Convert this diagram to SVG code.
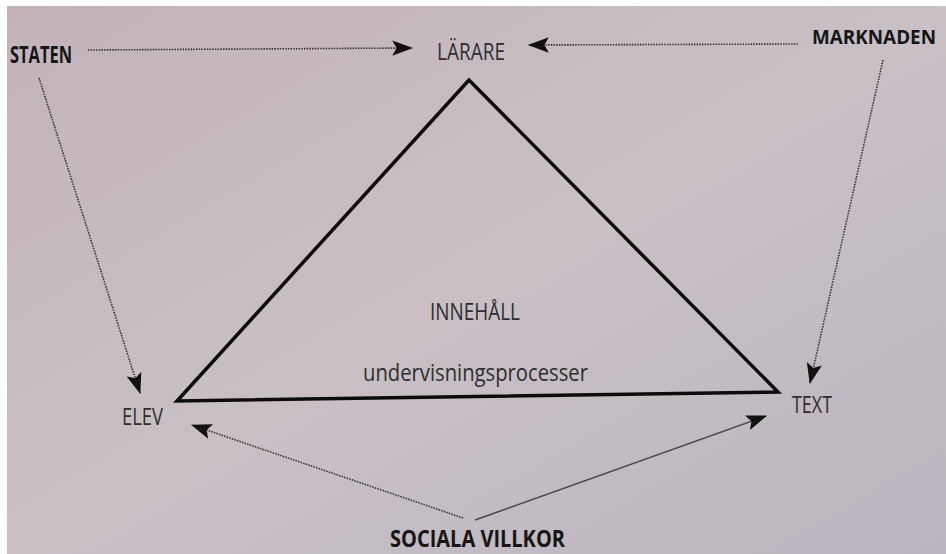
<svg xmlns="http://www.w3.org/2000/svg" width="946" height="554" viewBox="0 0 946 554">
<defs>
<linearGradient id="bg" x1="0" y1="0" x2="1" y2="1">
<stop offset="0" stop-color="#c2b3ba"/>
<stop offset="0.5" stop-color="#c8c0c5"/>
<stop offset="1" stop-color="#bcb5bf"/>
</linearGradient>
<marker id="ah" markerUnits="userSpaceOnUse" markerWidth="22" markerHeight="16" viewBox="0 0 20 14" refX="18" refY="7" orient="auto">
<path d="M0,0 L19,7 L0,14 L4,7 z" fill="#111"/>
</marker>
<style>
.lbl{font-family:"Open Sans","Noto Sans",sans-serif;font-size:24px;fill:#2e2e2e}
.bold{font-family:"Open Sans","Noto Sans",sans-serif;font-size:24px;font-weight:bold;fill:#161616}
.dot{fill:none;stroke:#333;stroke-width:1.6;stroke-dasharray:1.5 1.2;marker-end:url(#ah)}
.sol{fill:none;stroke:#444;stroke-width:1.4;marker-end:url(#ah)}
.tri{fill:none;stroke:#0c0c0c;stroke-width:3.5;stroke-linejoin:miter}
</style>
</defs>
<rect width="946" height="554" fill="#ffffff"/>
<rect x="7" y="6" width="939" height="548" fill="url(#bg)"/>
<g id="connectors">
<line class="dot" x1="88" y1="50" x2="412" y2="48"/>
<line class="dot" x1="798" y1="44" x2="529" y2="45"/>
<line class="dot" x1="39" y1="78" x2="140" y2="393"/>
<line class="dot" x1="883" y1="60" x2="810" y2="383"/>
<line class="dot" x1="463" y1="518" x2="192" y2="425"/>
<line class="sol" x1="475" y1="520" x2="766" y2="416"/>
</g>
<g id="triangle">
<polygon class="tri" points="469,80 177,401 778,392"/>
</g>
<g id="staten"><text class="bold" x="10" y="63" textLength="62" lengthAdjust="spacingAndGlyphs">STATEN</text></g>
<g id="marknaden"><text class="bold" x="812" y="44" style="font-size:20px" textLength="124" lengthAdjust="spacingAndGlyphs">MARKNADEN</text></g>
<g id="larare"><text class="lbl" x="437" y="60" textLength="68" lengthAdjust="spacingAndGlyphs">LÄRARE</text></g>
<g id="elev"><text class="lbl" x="122" y="425" textLength="41" lengthAdjust="spacingAndGlyphs">ELEV</text></g>
<g id="text"><text class="lbl" x="792" y="413" textLength="40" lengthAdjust="spacingAndGlyphs">TEXT</text></g>
<g id="innehall"><text class="lbl" x="430" y="320" textLength="90" lengthAdjust="spacingAndGlyphs">INNEHÅLL</text></g>
<g id="undervisning"><text class="lbl" x="363" y="381" textLength="225" lengthAdjust="spacingAndGlyphs">undervisningsprocesser</text></g>
<g id="sociala"><text class="bold" x="390" y="547" style="font-size:24px" textLength="175" lengthAdjust="spacingAndGlyphs">SOCIALA VILLKOR</text></g>
</svg>
